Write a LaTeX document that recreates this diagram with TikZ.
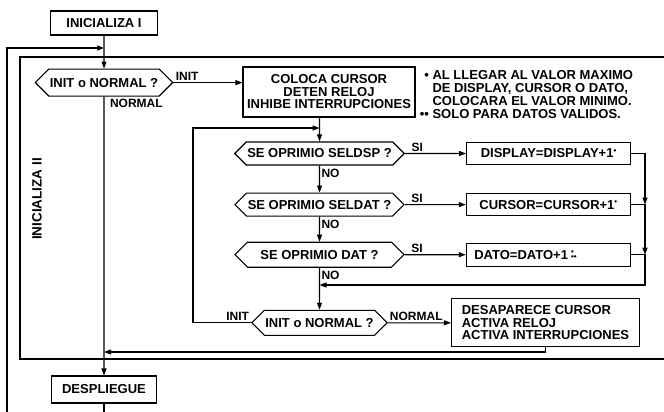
\documentclass[tikz,border=0pt]{standalone}
\usepackage{fontspec}
\setmainfont{Liberation Sans}
\usetikzlibrary{shapes.symbols,arrows.meta,positioning,calc}
\newcommand{\supdot}{{\fontsize{8}{8}\selectfont\raisebox{4.5pt}{\textbullet}}}
\newcommand{\dotpair}{\hspace{3pt}{\fontsize{8}{8}\selectfont\rlap{\raisebox{4.5pt}{\textbullet}}\textbullet\textbullet}}

\begin{document}
\begin{tikzpicture}[x=1pt,y=-1pt,
  font=\fontsize{13}{12.5}\selectfont\bfseries,
  line width=1.1pt,
  proc/.style={draw,rectangle,inner sep=2pt,align=center},
  quest/.style={draw,signal,signal to=west and east,signal pointer angle=90,inner sep=1pt},
  lbl/.style={inner sep=1.5pt,font=\fontsize{12}{12}\selectfont\bfseries},
  arr/.style={-{Triangle[length=7pt,width=5pt]}},
  node distance=25pt,
]
  \useasboundingbox (0,0) rectangle (664,412);
  \clip (0,0) rectangle (664,412);
  % bloque INICIALIZA II
  \node[draw,minimum width=670pt,minimum height=302pt,inner sep=0pt] (blk) at (355,208) {};
  \node[rotate=90,font=\fontsize{13.5}{13.5}\selectfont\bfseries] (ini2) at (37,199) {INICIALIZA II};

  \node[proc,minimum width=107pt,minimum height=24pt] (ini) at (104,23) {INICIALIZA I};
  \node[quest,minimum width=137pt,minimum height=27pt,below=33pt of ini] (d1) {INIT o NORMAL ?};
  \node[proc,minimum width=105pt,minimum height=27pt] (desp) at (104,389.5) {DESPLIEGUE};
  \node[proc,minimum width=172pt,minimum height=50pt] (colo) at (329,92) {COLOCA CURSOR\\DETEN RELOJ\\INHIBE INTERRUPCIONES};

  \node[quest,minimum width=169pt,minimum height=23pt] (d2) at (319.5,153.5) {SE OPRIMIO SELDSP ?};
  \node[quest,minimum width=169pt,minimum height=23pt,below=27pt of d2] (d3) {SE OPRIMIO SELDAT ?};
  \node[quest,minimum width=169pt,minimum height=25pt,below=25pt of d3] (d4) {SE OPRIMIO DAT ?};
  \node[quest,minimum width=135pt,minimum height=25pt,below=42pt of d4] (d5) {INIT o NORMAL ?};
  \node[proc,minimum width=164pt,minimum height=22pt,right=61pt of d2] (disp) {DISPLAY=DISPLAY+1\supdot};
  \node[proc,minimum width=164pt,minimum height=22pt,right=61pt of d3] (curs) {CURSOR=CURSOR+1\supdot};
  \node[proc,text width=148pt,inner xsep=8pt,minimum height=23pt,align=left,right=61pt of d4] (dato) {DATO=DATO+1\dotpair};
  \node[proc,minimum width=188pt,minimum height=48pt,align=left,right=63pt of d5] (desa) {DESAPARECE CURSOR\\ACTIVA RELOJ\\ACTIVA INTERRUPCIONES};

  % notas
  \node[anchor=north west,align=left,inner sep=0pt,font=\fontsize{13}{13}\selectfont\bfseries] (nota) at (432,70)
    {\llap{\textbullet\ }AL LLEGAR AL VALOR MAXIMO\\DE DISPLAY, CURSOR O DATO,\\COLOCARA EL VALOR MINIMO.\\\llap{\textbullet\textbullet\ }SOLO PARA DATOS VALIDOS.};

  \coordinate (lpt) at (7,48);
  \coordinate (lpb) at (7,420);
  \coordinate (back) at (193,128);
  \coordinate (cbot) at (645,285);
  \coordinate (ret) at (104,352);

  \draw[arr] (ini) -- (d1);
  \draw[arr] (d1) -- node[lbl,anchor=north west,pos=0,xshift=4pt]{NORMAL} (desp);
  \draw (desp) -- (desp |- lpb) -- (lpb);
  \draw[arr] (lpb) -- (lpt) -- (lpt -| ini);
  \draw[arr] (d1.east) -- node[lbl,above,pos=0.2]{INIT} (d1.east -| colo.west);
  \draw[arr] (colo.south -| d2) -- (d2);
  \draw[arr] (d2) -- node[lbl,above,pos=0.2]{SI} (disp);
  \draw[arr] (d3) -- node[lbl,above,pos=0.2]{SI} (curs);
  \draw[arr] (d4) -- node[lbl,above,pos=0.2]{SI} (dato);
  \draw[arr] (d2) -- node[lbl,right,pos=0.3]{NO} (d3);
  \draw[arr] (d3) -- node[lbl,right,pos=0.3]{NO} (d4);
  \draw[arr] (d4) -- node[lbl,right,pos=0.17]{NO} (d5);
  \draw[arr] (disp.east) -| (curs.east -| cbot);
  \draw[arr] (curs.east) -| (dato.east -| cbot);
  \draw[arr] (dato.east) -| (cbot) -- (cbot -| d4);
  \draw[arr] (d5.west) node[lbl,above left]{INIT} -| (back) -- (back -| d2);
  \draw[arr] (d5) -- node[lbl,above,pos=0.45]{NORMAL} (desa);
  \draw[arr] (desa.south) |- (ret);
\end{tikzpicture}
\end{document}
